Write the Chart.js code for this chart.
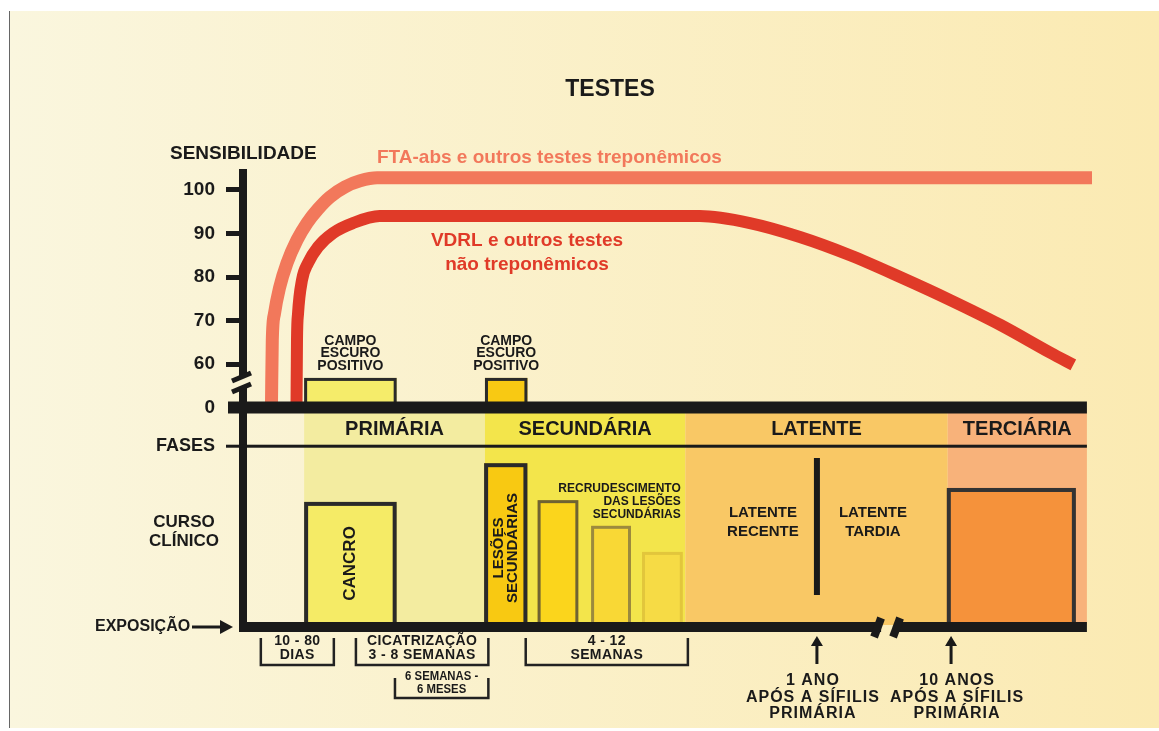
<!DOCTYPE html>
<html>
<head>
<meta charset="utf-8">
<script src="https://cdn.jsdelivr.net/npm/chart.js@4.4.1/dist/chart.umd.min.js"></script>
<style>
  html, body { margin: 0; padding: 0; background: #fff; }
  #wrap { width: 1159px; height: 731px; position: relative; }
</style>
</head>
<body>
<div id="wrap"><canvas id="chart"></canvas></div>
<script>
// time axis is schematic (0..100), sensitivity axis is broken under 60: its "0" sits at 50
const sensTickValues = [50, 60, 70, 80, 90, 100];
const sensTickLabels = ['0', '60', '70', '80', '90', '100'];

// FTA-abs and other treponemal tests
const ftaX = [3.35, 3.45, 3.7, 4.3, 5.18, 6.36, 7.54, 8.83, 10.25, 12.0, 13.8, 15.8, 100];
const ftaY = [50, 65.5, 71.5, 77.5, 83.2, 88.5, 92.4, 95.6, 98.4, 100.7, 102.1, 102.8, 102.8];

// VDRL and other non treponemal tests
const vdrlX = [6.3, 6.36, 6.48, 6.95, 7.66, 8.83, 10.6, 12.96, 16.1, 53.8, 59.7, 65.6, 71.5, 77.4, 83.3, 89.2, 95.1, 97.8];
const vdrlY = [50, 65.5, 71.5, 79.3, 83.2, 86.9, 90.1, 92.4, 94.0, 94.0, 92.4, 89.2, 85.0, 80.0, 74.7, 69.0, 62.6, 59.8];

// phases
const phaseNames = ['PRIMÁRIA', 'SECUNDÁRIA', 'LATENTE', 'TERCIÁRIA'];
const phaseStart = [7.2, 28.5, 52.1, 83.0];
const phaseEnd = [28.5, 52.1, 83.0, 99.4];

// dark field positive
const darkStart = [7.2, 28.5];
const darkEnd = [18.1, 33.5];
const darkTop = [56.8, 56.8];

// clinical course
const courseStart = [7.2, 28.4, 34.7, 41.0, 47.0, 82.9];
const courseEnd = [18.1, 33.5, 39.5, 45.7, 51.8, 98.1];
const courseTop = [28.3, 37.2, 28.7, 22.8, 16.8, 31.5];

// time spans under the axis
const spanLabels = [['10 - 80', 'DIAS'], ['CICATRIZAÇÃO', '3 - 8 SEMANAS'], ['6 SEMANAS -', '6 MESES'], ['4 - 12', 'SEMANAS']];
const spanStart = [2.1, 13.3, 17.9, 33.3];
const spanEnd = [10.7, 28.9, 28.9, 52.4];
const spanRow = [0, 0, 1, 0];

// time markers
const markerX = [67.6, 83.4];
const markerLabels = [['1 ANO', 'APÓS A SÍFILIS', 'PRIMÁRIA'], ['10 ANOS', 'APÓS A SÍFILIS', 'PRIMÁRIA']];
const axisBreakX = 76.1;

const zeroLine = 50;
const fasesLine = 41.1;

const phaseColors = ['#f3eca0', '#f3e54b', '#f9c865', '#f8b27a'];
const darkColors = ['#f5ec6a', '#f8c913'];
const courseFill = ['#f5eb66', '#f8c912', '#fbd51c', '#f9d835', '#f6db45', '#f5923b'];
const courseStroke = ['#2a2a2a', '#2a2a2a', '#6f6333', '#9c8a3e', '#e2c63c', '#333333'];
const INK = '#1a1a1a';
const FONT = '"Liberation Sans", Arial, Helvetica, sans-serif';
const font = s => 'bold ' + s + 'px ' + FONT;

function bg(ctx) {
    const g = ctx.createLinearGradient(10, 0, 1159, 0);
    g.addColorStop(0, '#faf6de');
    g.addColorStop(1, '#fbeab2');
    return g;
}

function box(ctx, x0, y0, x1, y1, fill, stroke, lw) {
    ctx.fillStyle = fill;
    ctx.fillRect(x0, y0, x1 - x0, y1 - y0);
    if (stroke) {
        ctx.strokeStyle = stroke;
        ctx.lineWidth = lw;
        ctx.strokeRect(x0 + lw / 2, y0 + lw / 2, x1 - x0 - lw, y1 - y0 - lw);
    }
}

function lines(ctx, arr, x, y, step) {
    arr.forEach((t, i) => ctx.fillText(t, x, y + i * step));
}

const diagram = {
    id: 'diagram',
    beforeDraw(chart) {
        const { ctx } = chart;
        const x = chart.scales.x, y = chart.scales.y;
        ctx.save();
        ctx.fillStyle = '#fff';
        ctx.fillRect(0, 0, chart.width, chart.height);
        ctx.fillStyle = bg(ctx);
        ctx.fillRect(10, 11, chart.width - 10, 717);
        ctx.fillStyle = '#666';
        ctx.fillRect(9, 11, 1, 717);

        const top = y.getPixelForValue(zeroLine), bot = y.getPixelForValue(0);
        phaseNames.forEach((n, i) => {
            const x0 = x.getPixelForValue(phaseStart[i]), x1 = x.getPixelForValue(phaseEnd[i]);
            ctx.fillStyle = phaseColors[i];
            ctx.fillRect(x0, top, x1 - x0, bot - top);
        });
        ctx.restore();
    },
    beforeDatasetsDraw(chart) {
        const { ctx } = chart;
        const x = chart.scales.x, y = chart.scales.y;
        ctx.save();
        // clinical course boxes
        courseStart.forEach((s, i) => {
            box(ctx, x.getPixelForValue(s), y.getPixelForValue(courseTop[i]),
                x.getPixelForValue(courseEnd[i]), y.getPixelForValue(0) + 2,
                courseFill[i], courseStroke[i], i >= 2 && i <= 4 ? 3 : 4);
        });
        // dark field boxes
        darkStart.forEach((s, i) => {
            box(ctx, x.getPixelForValue(s), y.getPixelForValue(darkTop[i]),
                x.getPixelForValue(darkEnd[i]), y.getPixelForValue(zeroLine),
                darkColors[i], '#2a2a2a', 3);
        });
        // latent divider
        const dx = x.getPixelForValue(markerX[0]);
        ctx.fillStyle = INK;
        ctx.fillRect(dx - 3, 458, 6, 137);
        ctx.restore();
    },
    afterDatasetsDraw(chart) {
        const { ctx } = chart;
        const x = chart.scales.x, y = chart.scales.y;
        const left = chart.chartArea.left;
        const xEnd = x.getPixelForValue(phaseEnd[3]);
        ctx.save();
        ctx.fillStyle = INK;

        // zero line, phases line, exposure baseline
        const y0 = y.getPixelForValue(zeroLine);
        ctx.fillRect(228, y0 - 6, xEnd - 228, 12);
        const yf = y.getPixelForValue(fasesLine);
        ctx.fillRect(226, yf - 1.5, xEnd - 226, 3);
        const yb = y.getPixelForValue(0) + 2;
        const bx = x.getPixelForValue(axisBreakX);
        ctx.fillRect(left - 4, yb - 5, bx - 8 - (left - 4), 10);
        ctx.fillRect(bx + 8, yb - 5, xEnd - bx - 8, 10);
        ctx.strokeStyle = INK;
        ctx.lineWidth = 8;
        [-12, 7].forEach(o => {
            ctx.beginPath();
            ctx.moveTo(bx + o - 3, yb + 10);
            ctx.lineTo(bx + o + 4, yb - 9);
            ctx.stroke();
        });

        // y axis break
        ctx.fillStyle = bg(ctx);
        ctx.fillRect(left - 5, 377, 10, 11);
        ctx.strokeStyle = INK;
        ctx.lineWidth = 5;
        [[381, 373], [392, 384]].forEach(p => {
            ctx.beginPath();
            ctx.moveTo(left - 11, p[0]);
            ctx.lineTo(left + 8, p[1]);
            ctx.stroke();
        });

        ctx.fillStyle = INK;
        ctx.textBaseline = 'middle';
        ctx.textAlign = 'center';

        // title and axis names
        ctx.font = font(23);
        ctx.fillText('TESTES', 610, 90);
        ctx.textAlign = 'left';
        ctx.font = font(19);
        ctx.fillText('SENSIBILIDADE', 170, 154);
        ctx.font = font(18);
        ctx.textAlign = 'right';
        ctx.fillText('FASES', 215, yf);
        ctx.textAlign = 'center';
        ctx.font = font(17);
        lines(ctx, ['CURSO', 'CLÍNICO'], 184, 522, 19);
        ctx.textAlign = 'left';
        ctx.font = font(16);
        ctx.fillText('EXPOSIÇÃO', 95, yb);
        ctx.fillRect(192, yb - 1.5, 30, 3);
        ctx.beginPath();
        ctx.moveTo(233, yb);
        ctx.lineTo(220, yb - 7);
        ctx.lineTo(220, yb + 7);
        ctx.closePath();
        ctx.fill();

        // series names
        ctx.font = font(19);
        ctx.fillStyle = '#f2785b';
        ctx.fillText('FTA-abs e outros testes treponêmicos', 377, 158);
        ctx.fillStyle = '#e03a28';
        ctx.textAlign = 'center';
        lines(ctx, ['VDRL e outros testes', 'não treponêmicos'], 527, 241, 24);

        // phase names
        ctx.fillStyle = INK;
        ctx.font = font(20);
        const yp = (y0 + 6 + yf) / 2;
        phaseNames.forEach((n, i) => {
            ctx.fillText(n, (x.getPixelForValue(phaseStart[i]) + x.getPixelForValue(phaseEnd[i])) / 2, yp);
        });

        // dark field labels
        ctx.font = font(14);
        darkStart.forEach((s, i) => {
            const cx = (x.getPixelForValue(s) + x.getPixelForValue(darkEnd[i])) / 2;
            lines(ctx, ['CAMPO', 'ESCURO', 'POSITIVO'], cx, 341, 12.5);
        });

        // vertical box labels
        const vtext = (arr, cx, cy, size, step) => {
            ctx.save();
            ctx.translate(cx, cy);
            ctx.rotate(-Math.PI / 2);
            ctx.font = font(size);
            lines(ctx, arr, 0, -(arr.length - 1) * step / 2, step);
            ctx.restore();
        };
        const cb = y.getPixelForValue(0);
        vtext(['CANCRO'], (x.getPixelForValue(courseStart[0]) + x.getPixelForValue(courseEnd[0])) / 2,
            (y.getPixelForValue(courseTop[0]) + cb) / 2, 17, 0);
        vtext(['LESÕES', 'SECUNDÁRIAS'], (x.getPixelForValue(courseStart[1]) + x.getPixelForValue(courseEnd[1])) / 2,
            548, 15, 14);

        ctx.textAlign = 'right';
        ctx.font = font(12);
        lines(ctx, ['RECRUDESCIMENTO', 'DAS LESÕES', 'SECUNDÁRIAS'], x.getPixelForValue(courseEnd[4]) - 2, 489, 13);

        ctx.textAlign = 'center';
        ctx.font = font(15);
        const dx = x.getPixelForValue(markerX[0]);
        lines(ctx, ['LATENTE', 'RECENTE'], dx - 54, 513, 19);
        lines(ctx, ['LATENTE', 'TARDIA'], dx + 56, 513, 19);

        // time spans
        ctx.strokeStyle = '#222';
        ctx.lineWidth = 2.5;
        spanLabels.forEach((lab, i) => {
            const a = x.getPixelForValue(spanStart[i]), b = x.getPixelForValue(spanEnd[i]);
            const t = spanRow[i] === 0 ? 638 : 678, btm = spanRow[i] === 0 ? 665 : 698;
            ctx.beginPath();
            ctx.moveTo(a, t);
            ctx.lineTo(a, btm);
            ctx.lineTo(b, btm);
            ctx.lineTo(b, t);
            ctx.stroke();
            if (spanRow[i] === 0) {
                ctx.font = font(14);
                ctx.letterSpacing = '0.4px';
                lines(ctx, lab, (a + b) / 2, 641, 14);
                ctx.letterSpacing = '0px';
            } else {
                ctx.save();
                ctx.translate((a + b) / 2, 0);
                ctx.scale(0.84, 1);
                ctx.font = font(13.5);
                lines(ctx, lab, 0, 676, 13);
                ctx.restore();
            }
        });

        // markers
        const labelShift = [-4, 6];
        markerX.forEach((m, i) => {
            const px = x.getPixelForValue(m);
            ctx.fillRect(px - 1.5, 644, 3, 20);
            ctx.beginPath();
            ctx.moveTo(px, 636);
            ctx.lineTo(px - 6, 646);
            ctx.lineTo(px + 6, 646);
            ctx.closePath();
            ctx.fill();
            ctx.font = font(16);
            ctx.letterSpacing = '1px';
            lines(ctx, markerLabels[i], px + labelShift[i], 681, 16.5);
            ctx.letterSpacing = '0px';
        });
        ctx.restore();
    }
};

new Chart(document.getElementById('chart'), {
    type: 'line',
    data: {
        datasets: [{
            label: 'FTA-abs',
            data: ftaX.map((v, i) => ({ x: v, y: ftaY[i] })),
            borderColor: '#f2785b',
            borderWidth: 13,
            borderCapStyle: 'butt',
            pointRadius: 0,
            cubicInterpolationMode: 'monotone',
            clip: false
        }, {
            label: 'VDRL',
            data: vdrlX.map((v, i) => ({ x: v, y: vdrlY[i] })),
            borderColor: '#e03a28',
            borderWidth: 12,
            borderCapStyle: 'butt',
            pointRadius: 0,
            cubicInterpolationMode: 'monotone',
            clip: false
        }]
    },
    options: {
        responsive: true,
        maintainAspectRatio: false,
        animation: false,
        layout: { padding: { left: 182, right: 67, top: 172.6, bottom: 106 } },
        plugins: {
            legend: { display: false },
            tooltip: { enabled: false }
        },
        scales: {
            x: { type: 'linear', min: 0, max: 100, display: false },
            y: {
                type: 'linear',
                min: 0,
                max: 104,
                afterBuildTicks: s => { s.ticks = sensTickValues.map(v => ({ value: v })); },
                afterFit: s => { s.width = 61; },
                ticks: {
                    color: INK,
                    padding: 11,
                    font: { family: FONT, size: 19, weight: 'bold' },
                    callback: v => sensTickLabels[sensTickValues.indexOf(v)]
                },
                grid: {
                    drawOnChartArea: false,
                    drawTicks: true,
                    tickLength: 17,
                    tickWidth: 5,
                    tickColor: c => (c.tick && c.tick.value === 50) ? 'rgba(0,0,0,0)' : INK
                },
                border: { display: true, width: 8, color: INK }
            }
        }
    },
    plugins: [diagram]
});
</script>
</body>
</html>
